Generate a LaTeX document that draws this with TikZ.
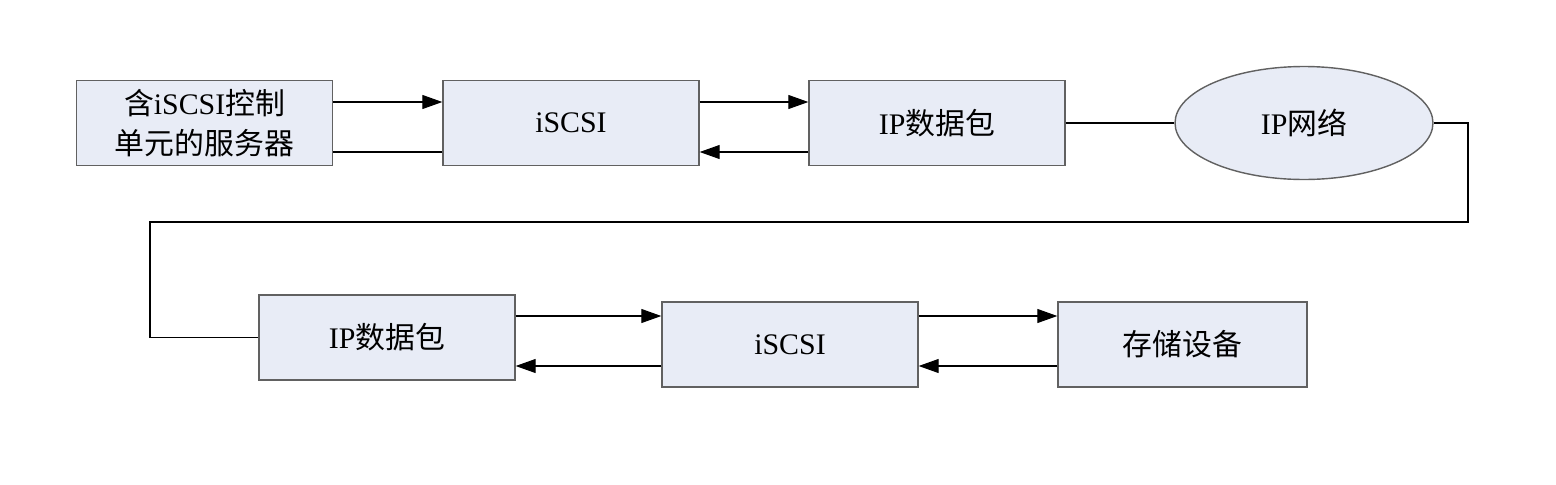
\documentclass[tikz,border=0pt]{standalone}
\usepackage{fontspec}
\setmainfont{Liberation Serif}
\newfontfamily\cjk{Noto Sans CJK SC}
\usetikzlibrary{shapes.geometric,arrows.meta}

\begin{document}
\begin{tikzpicture}[x=0.02cm,y=-0.02cm]

  \definecolor{boxcol}{rgb}{0.91,0.925,0.965}
  \definecolor{edgecol}{rgb}{0.38,0.38,0.38}

  \tikzset{
      boxstl/.style={draw=edgecol,line width=0.8pt,fill=boxcol,inner sep=0pt,
        minimum width=5.12cm,minimum height=1.7cm,align=center,
        font=\fontsize{17pt}{23pt}\selectfont},
      netstl/.style={boxstl,ellipse,minimum width=5.16cm,minimum height=2.26cm},
      linkstl/.style={line width=0.6pt},
      arrstl/.style={linkstl,-{Triangle[length=4mm,width=2.8mm]}},
    }

  \useasboundingbox (0,0) rectangle (1556,484);

  %% upper row.
  \node[boxstl] (srv) at (204.5,123) {{\cjk 含}iSCSI{\cjk 控制}\\{\cjk 单元的服务器}};
  \node[boxstl] (iscsiA) at (571,123) {iSCSI};
  \node[boxstl] (pktA) at (937,123) {IP{\cjk 数据包}};
  \node[netstl] (net) at (1304,123) {IP{\cjk 网络}};

  %% lower row.
  \node[boxstl] (pktB) at (387,337.5) {IP{\cjk 数据包}};
  \node[boxstl] (iscsiB) at (790,344.5) {iSCSI};
  \node[boxstl,minimum width=4.98cm] (store) at (1182.5,344.5) {{\cjk 存储设备}};

  % rows of the links.
  \coordinate (u1) at (0,102);
  \coordinate (u2) at (0,152);
  \coordinate (l1) at (0,316);
  \coordinate (l2) at (0,366);

  % turn points of the long link.
  \coordinate (t1) at (1468,222);
  \coordinate (t2) at (150,222);

  \draw[arrstl] (srv.east |- u1) -- (iscsiA.west |- u1);
  \draw[linkstl] (iscsiA.west |- u2) -- (srv.east |- u2);
  \draw[arrstl] (iscsiA.east |- u1) -- (pktA.west |- u1);
  \draw[arrstl] (pktA.west |- u2) -- (iscsiA.east |- u2);

  \draw[linkstl] (pktA.east) -- (net.west);
  \draw[linkstl] (net.east) -| (t1) -- (t2) |- (pktB.west);

  \draw[arrstl] (pktB.east |- l1) -- (iscsiB.west |- l1);
  \draw[arrstl] (iscsiB.west |- l2) -- (pktB.east |- l2);
  \draw[arrstl] (iscsiB.east |- l1) -- (store.west |- l1);
  \draw[arrstl] (store.west |- l2) -- (iscsiB.east |- l2);

\end{tikzpicture}
\end{document}
